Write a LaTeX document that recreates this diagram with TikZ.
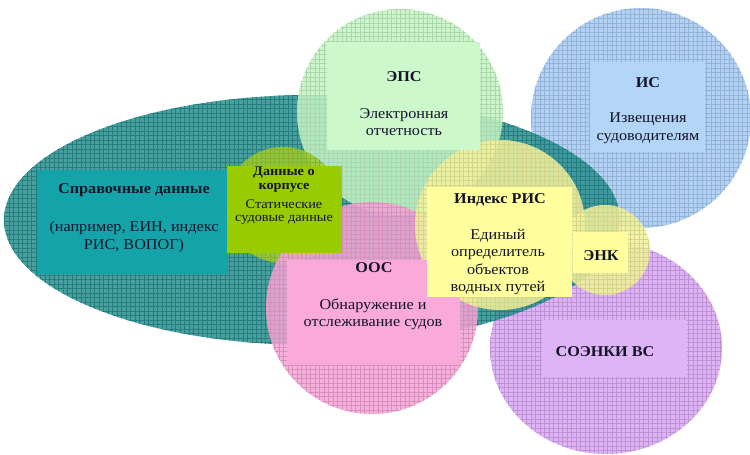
\documentclass[tikz,border=0pt]{standalone}
\usepackage{fontspec}
\setmainfont{Liberation Serif}[FakeStretch=1.08]
\usetikzlibrary{patterns.meta}
\definecolor{cteal}{HTML}{2A8E8E}
\definecolor{csprav}{HTML}{14A3A8}
\definecolor{cmint}{HTML}{C4F4C4}
\definecolor{cmintr}{HTML}{CCF8CC}
\definecolor{cblue}{HTML}{A6CBF2}
\definecolor{cbluer}{HTML}{B2D5F8}
\definecolor{cgreen}{HTML}{9ACB2E}
\definecolor{cgreenr}{HTML}{99CC00}
\definecolor{cpink}{HTML}{F4A4D6}
\definecolor{cpinkr}{HTML}{F9AAD8}
\definecolor{cyel}{HTML}{F2F29C}
\definecolor{cyelr}{HTML}{FFFF9E}
\definecolor{cpurp}{HTML}{D8A6F2}
\definecolor{cpurpr}{HTML}{DDB4F6}
\definecolor{ctext}{HTML}{141428}
\newcommand\gridblob[2]{%
  \fill[#1, fill opacity=0.85] #2;
  \fill[pattern={Hatch[distance=4.5pt,line width=0.4pt]}, pattern color=#1!88!black, fill opacity=0.5] #2;}
\begin{document}
\begin{tikzpicture}[x=1pt,y=-1pt,
  ttl/.style={font=\bfseries\fontsize{15}{16}\selectfont, text=ctext, inner sep=0pt, align=center},
  txt/.style={font=\fontsize{15}{17.5}\selectfont, text=ctext, inner sep=0pt, align=center},
  sml/.style={font=\fontsize{13.2}{13.5}\selectfont, text=ctext, inner sep=0pt, align=center},
  smlb/.style={font=\bfseries\fontsize{13.2}{14}\selectfont, text=ctext, inner sep=0pt, align=center}]
\useasboundingbox (0,0) rectangle (750,455);
\fill[white] (0,0) rectangle (750,455);
% circles and ellipse
\gridblob{cblue}{(641,118) circle[radius=110pt]}
\gridblob{cpurp}{(606,348) ellipse[x radius=116pt, y radius=106pt]}
\gridblob{cteal}{(312,220) ellipse[x radius=308pt, y radius=125pt]}
\gridblob{cmint}{(400,112) circle[radius=103pt]}
\gridblob{cgreen}{(283,205) circle[radius=58pt]}
\gridblob{cpink}{(372,308) circle[radius=106pt]}
\gridblob{cyel}{(500,225) circle[radius=85pt]}
\gridblob{cyel}{(605,250) circle[radius=45pt]}
% label backgrounds
\fill[csprav] (37,170) rectangle (228,274);
\fill[cmintr] (327,42) rectangle (480,150);
\fill[cbluer] (590,62) rectangle (705,152);
\fill[cgreenr] (227,166) rectangle (342,253);
\fill[cpinkr] (287,260) rectangle (460,365);
\fill[cyelr] (427,187) rectangle (572,297);
\fill[cyelr] (573,232) rectangle (628,273);
\fill[cpurpr] (542,320) rectangle (687,377);
% texts
\node[ttl] (sprt) at (134,190) {Справочные данные};
\node[txt] (sprb) at (134,237) {(например, ЕИН, индекс\\РИС, ВОПОГ)};
\node[ttl] (epst) at (404,77) {ЭПС};
\node[txt] (epsb) at (404,122) {Электронная\\отчетность};
\node[ttl] (ist) at (648,83) {ИС};
\node[txt] (isb) at (648,128) {Извещения\\судоводителям};
\node[smlb] (grt) at (284,180) {Данные о\\корпусе};
\node[sml] (grb) at (284,212) {Статические\\судовые данные};
\node[ttl] (oost) at (374,268) {ООС};
\node[txt] (oosb) at (373,314) {Обнаружение и\\отслеживание судов};
\node[ttl] (rist) at (500,200) {Индекс РИС};
\node[txt] (risb) at (498,262) {Единый\\определитель\\объектов\\водных путей};
\node[ttl] (enk) at (601,256) {ЭНК};
\node[ttl] (soe) at (605,352) {СОЭНКИ ВС};
\end{tikzpicture}
\end{document}
